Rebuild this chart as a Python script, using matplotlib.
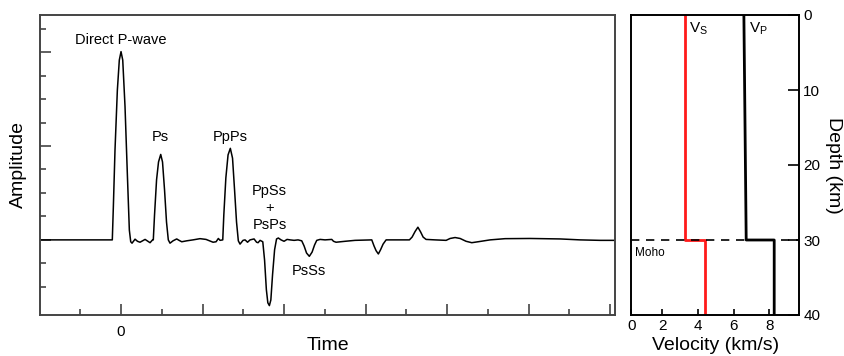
import matplotlib
matplotlib.use("Agg")
import matplotlib.pyplot as plt
from matplotlib.ticker import FixedLocator

plt.rcParams['font.family'] = ['Liberation Sans', 'DejaVu Sans']

# ---- receiver-function trace ----
time_s = [-10.0, -1.23, -1.07, -0.94, -0.74, -0.45, -0.21, 0.0, 0.21, 0.49, 0.77, 1.02, 1.19, 1.35,
          1.72, 2.02, 2.33, 2.95, 3.56, 3.87,
          3.96, 4.11, 4.36, 4.60, 4.87, 5.09, 5.34, 5.58, 5.80, 6.01, 6.38, 6.83, 7.12, 7.45, 8.06,
          8.83, 9.69, 10.43, 11.29, 11.66, 11.94, 12.15, 12.48,
          12.61, 12.86, 13.13, 13.41, 13.68, 13.93, 14.17, 14.39, 14.60, 14.97, 15.22, 15.52, 15.83,
          16.32, 16.63, 16.81, 17.06, 17.39,
          17.61, 17.83, 18.01, 18.20, 18.38, 18.59, 18.84, 19.08, 19.30, 19.63, 20.0, 20.37, 20.74,
          21.23, 21.72, 22.17,
          22.46, 22.76, 23.10, 23.44, 23.74, 24.01, 24.42, 25.03, 25.85, 26.07, 26.38, 27.49, 28.71,
          30.76, 31.04, 31.29, 31.57, 31.84, 32.15, 32.52, 33.62, 35.38,
          35.71, 36.08, 36.42, 36.75, 37.06, 37.42, 38.53, 39.88, 40.37, 40.98, 41.60, 42.33, 43.03,
          43.80, 45.28, 47.12, 50.18, 53.87, 56.32, 58.77, 61.0]
amplitude = [0.0, 0.0, 0.0, 0.071, 0.191, 0.319, 0.383, 0.401, 0.383, 0.284, 0.143, 0.021, -0.004, -0.007,
             0.0015, -0.003, -0.005, 0.001, -0.006, 0.0,
             0.0, 0.053, 0.128, 0.166, 0.182, 0.166, 0.106, 0.038, 0.0, -0.007, -0.002, 0.002, -0.001,
             -0.004, -0.002,
             0.0, 0.0026, 0.001, -0.005, -0.004, 0.003, -0.001, 0.0,
             0.053, 0.132, 0.181, 0.195, 0.174, 0.106, 0.038, -0.002, -0.009, -0.001, 0.0, -0.005, 0.0,
             0.002, -0.005, -0.006, -0.001, -0.004,
             -0.043, -0.106, -0.134, -0.140, -0.128, -0.074, -0.021, 0.002, 0.004, 0.0, -0.003, 0.001, 0.0,
             -0.001, 0.0, -0.002,
             -0.013, -0.028, -0.035, -0.026, -0.011, -0.001, 0.001, 0.0, 0.001, -0.003, -0.005, -0.003,
             -0.001,
             0.0, -0.013, -0.023, -0.030, -0.021, -0.009, 0.0, 0.0, 0.0,
             0.006, 0.018, 0.027, 0.017, 0.006, 0.001, 0.0, -0.001, 0.003, 0.005, 0.003, -0.003, -0.006,
             -0.004, 0.0, 0.0026, 0.003, 0.002, 0.0, -0.001, -0.001]

phase_labels = ["Direct P-wave", "Ps", "PpPs", "PpSs\n+\nPsPs", "PsSs"]
phase_time = [0.0, 4.8, 13.4, 18.2, 23.1]
phase_amp = [0.426, 0.219, 0.219, 0.068, -0.066]

# ---- velocity model ----
depth_km = [0, 30, 30, 40]
vs_kms = [3.3, 3.3, 4.4, 4.4]
vp_kms = [6.58, 6.71, 8.28, 8.28]
vel_ticks = [0, 2, 4, 6, 8]
depth_ticks = [0, 10, 20, 30, 40]

fig = plt.figure(figsize=(8.45, 3.56), dpi=100)

# ---------- left: trace ----------
ax = fig.add_axes([40/845, 41/356, 575/845, 300/356])
ax.plot(time_s, amplitude, color='black', lw=1.1)
ax.set_xlim(-9.94, 60.6)
ax.set_ylim(-0.16, 0.479)
ax.xaxis.set_major_locator(FixedLocator([0, 10, 20, 30, 40, 50, 60]))
ax.xaxis.set_minor_locator(FixedLocator([-5, 5, 15, 25, 35, 45, 55]))
ax.set_xticklabels(['0', '', '', '', '', '', ''])
ax.yaxis.set_major_locator(FixedLocator([0.0, 0.2, 0.4]))
ax.yaxis.set_minor_locator(FixedLocator([-0.1, -0.05, 0.05, 0.1, 0.15, 0.25, 0.3, 0.35, 0.45]))
ax.set_yticklabels([])
ax.tick_params(which='major', direction='in', length=8, width=1.2, color='#444444',
               labelsize=11, pad=7)
ax.tick_params(which='minor', direction='in', length=4, width=1.2, color='#444444')
for s in ax.spines.values():
    s.set_color('#444444')
    s.set_linewidth(1.4)
ax.set_xlabel('Time', fontsize=14, va='center')
ax.xaxis.set_label_coords(0.5, -0.1)
ax.set_ylabel('Amplitude', fontsize=14, va='center')
ax.yaxis.set_label_coords(-0.038, 0.5)
for lab, t, a in zip(phase_labels, phase_time, phase_amp):
    ax.text(t, a, lab, ha='center', va='center', fontsize=10.5, linespacing=1.25)

# ---------- right: velocity model ----------
ax2 = fig.add_axes([631.5/845, 41/356, 167.5/845, 300/356])
ax2.plot(vs_kms, depth_km, color='#ff1a1a', lw=2)
ax2.plot(vp_kms, depth_km, color='black', lw=2)
ax2.axhline(30, color='black', lw=1.2, ls=(0, (5, 4)))
ax2.set_xlim(0.28, 9.67)
ax2.set_ylim(40, 0)
ax2.set_xticks([0.28, 2, 4, 6, 8])
ax2.set_xticklabels([str(v) for v in vel_ticks])
ax2.set_yticks(depth_ticks)
ax2.yaxis.tick_right()
ax2.yaxis.set_label_position('right')
ax2.tick_params(axis='x', direction='in', length=4, width=1.2, labelsize=11, pad=3)
ax2.tick_params(axis='y', direction='in', length=8, width=1.2, labelsize=11, pad=3)
for s in ax2.spines.values():
    s.set_color('black')
    s.set_linewidth(1.4)
ax2.set_xlabel('Velocity (km/s)', fontsize=14, va='center')
ax2.xaxis.set_label_coords(0.5, -0.1)
ax2.set_ylabel('Depth (km)', fontsize=14, rotation=270, labelpad=16)
ax2.text(3.5, 1.8, r'V$_\mathregular{S}$', fontsize=11, ha='left', va='center')
ax2.text(6.85, 1.8, r'V$_\mathregular{P}$', fontsize=11, ha='left', va='center')
ax2.text(0.5, 31.8, 'Moho', fontsize=8.5, ha='left', va='center')

fig.savefig('out.png', dpi=100)
